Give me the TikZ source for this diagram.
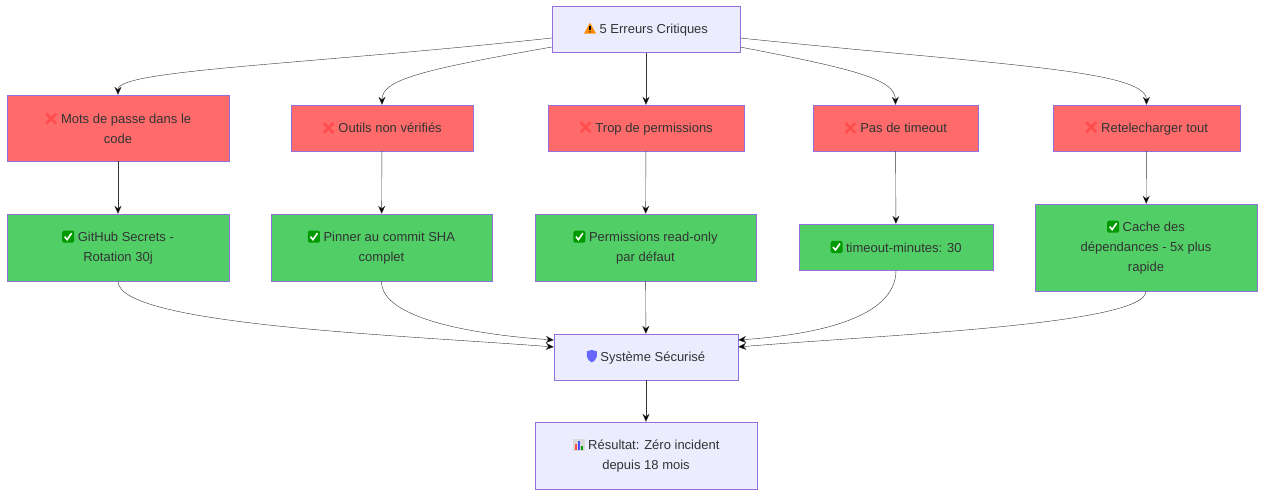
\documentclass[tikz,border=0pt]{standalone}
\usepackage{fontspec}
\setmainfont{Liberation Sans}
\usetikzlibrary{arrows.meta,positioning}
\definecolor{lila}{HTML}{ECECFF}
\definecolor{rand}{HTML}{9370DB}
\definecolor{rot}{HTML}{FF6B6B}
\definecolor{gruen}{HTML}{51CF66}
\definecolor{tinte}{HTML}{333333}
% small icons
\newcommand{\iwarn}{\tikz[baseline=0pt,x=1pt,y=1pt]{\fill[orange!90!yellow] (0,0)--(12,0)--(6,11)--cycle;
  \fill[black] (5.4,3.5) rectangle (6.6,8); \fill[black] (6,1.8) circle (0.7);}}
\newcommand{\icross}{\tikz[baseline=0pt,x=1pt,y=1pt]{\draw[red!70!white,line width=2.6pt] (1,0)--(11,10) (1,10)--(11,0);}}
\newcommand{\icheck}{\tikz[baseline=0pt,x=1pt,y=1pt]{\fill[green!60!black,rounded corners=1.5pt] (0,-1) rectangle (12,11);
  \draw[white,line width=1.6pt] (2.5,5)--(5,2)--(9.5,8.5);}}
\newcommand{\ishield}{\tikz[baseline=0pt,x=1pt,y=1pt]{\fill[blue!60!white] (1,10)--(6,11.5)--(11,10)--(11,5) .. controls (11,2) and (8,0) .. (6,-1) .. controls (4,0) and (1,2) .. (1,5)--cycle;}}
\newcommand{\ichart}{\tikz[baseline=0pt,x=1pt,y=1pt]{\fill[gray!30] (0,-1) rectangle (12,11);
  \fill[red!70] (2,0) rectangle (4,6); \fill[blue!70] (5,0) rectangle (7,9); \fill[green!60!black] (8,0) rectangle (10,4);}}

\begin{document}
\begin{tikzpicture}[x=1pt,y=-1pt,
            font=\fontsize{13}{20}\selectfont,text=tinte,
            box/.style = {draw=rand,fill=lila,align=center,
                minimum height=46pt,inner sep=0pt},
            err/.style = {box,fill=rot},
            fix/.style = {box,fill=gruen},
            arr/.style = {-{Stealth[length=8pt,width=7pt]},draw=tinte}]
            \useasboundingbox (0,0) rectangle (1264,497);
            % top
            \node[box,minimum width=188pt](top) at (646,29.5) {\iwarn\ 5 Erreurs Critiques};
            % errors
            \node[err,minimum width=222pt,minimum height=66pt](e1) at (118,128) {\icross\ Mots de passe dans le\\code};
            \node[err,minimum width=182pt](e2) at (382,128) {\icross\ Outils non vérifiés};
            \node[err,minimum width=196pt](e3) at (646,128) {\icross\ Trop de permissions};
            \node[err,minimum width=165pt](e4) at (895.5,128) {\icross\ Pas de timeout};
            \node[err,minimum width=187pt](e5) at (1146.5,128) {\icross\ Retelecharger tout};
            % fixes
            \node[fix,minimum width=222pt,minimum height=67pt](f1) at (118,247.5) {\icheck\ GitHub Secrets -\\Rotation 30j};
            \node[fix,minimum width=221pt,minimum height=67pt](f2) at (381.5,247.5) {\icheck\ Pinner au commit SHA\\complet};
            \node[fix,minimum width=221pt,minimum height=67pt](f3) at (645.5,247.5) {\icheck\ Permissions read-only\\par défaut};
            \node[fix,minimum width=194pt](f4) at (896,247) {\icheck\ timeout-minutes: 30};
            \node[fix,minimum width=222pt,minimum height=87pt](f5) at (1146,247.5) {\icheck\ Cache des\\dépendances - 5x plus\\rapide};
            % result
            \node[box,minimum width=184pt](sys) at (646,357) {\ishield\ Système Sécurisé};
            \node[box,minimum width=222pt,minimum height=67pt](res) at (646,455.5) {\ichart\ Résultat: Zéro incident\\depuis 18 mois};
            \coordinate (tl1) at (552,38); \coordinate (tl2) at (552,47);
            \coordinate (tr1) at (740,38); \coordinate (tr2) at (740,47);
            \draw[arr] (tl1) .. controls (300,65) and (118,70) .. (e1.north);
            \draw[arr] (tl2) .. controls (420,70) and (382,80) .. (e2.north);
            \draw[arr] (top) -- (e3);
            \draw[arr] (tr2) .. controls (860,70) and (895,80) .. (e4.north);
            \draw[arr] (tr1) .. controls (1000,65) and (1146,70) .. (e5.north);
            \foreach \i in {1,...,5}
                \draw[arr] (e\i) -- (f\i);
            \draw[arr] (f1.south) .. controls (118,325) and (400,335) .. ([yshift=10pt]sys.west);
            \draw[arr] (f2.south) .. controls (381,320) and (480,335) .. ([yshift=17pt]sys.west);
            \draw[arr] (f3) -- (sys);
            \draw[arr] (f4.south) .. controls (896,320) and (810,335) .. ([yshift=17pt]sys.east);
            \draw[arr] (f5.south) .. controls (1146,325) and (880,335) .. ([yshift=10pt]sys.east);
            \draw[arr] (sys) -- (res);
        \end{tikzpicture}
\end{document}
